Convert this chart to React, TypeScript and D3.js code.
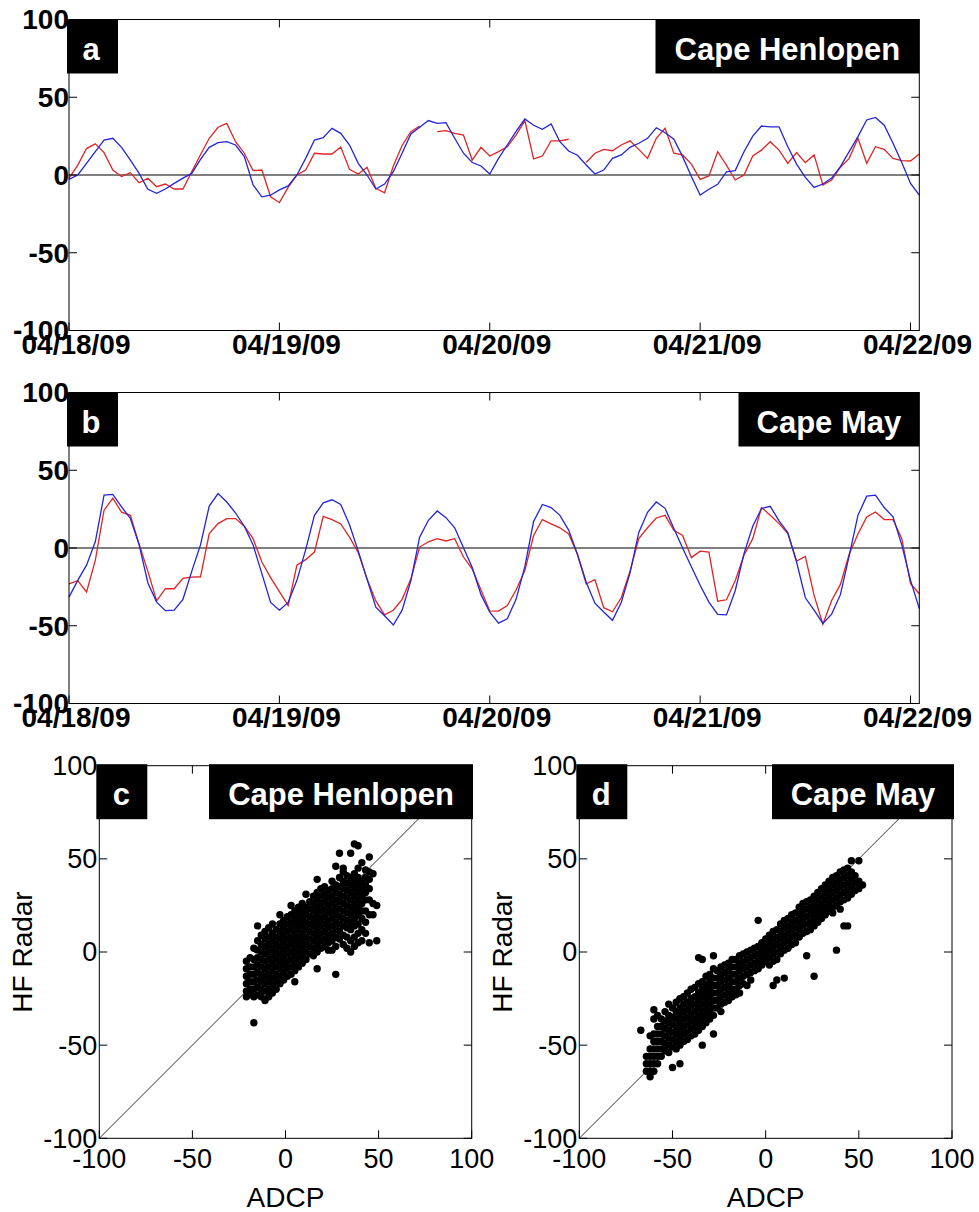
import React from 'react';
import * as d3 from 'd3';

// hourly series, starting 04/18/09 00:00
const startTime = new Date(2009, 3, 18, 0);
const endTime = new Date(2009, 3, 22, 1);
const dateTicks = ['04/18/09', '04/19/09', '04/20/09', '04/21/09', '04/22/09'];
const valueTicks = [-100, -50, 0, 50, 100];
const scatterTicks = [-100, -50, 0, 50, 100];

const henlopenAdcp = [
  -2.8, 0, 7.5, 15, 22.5, 23.6, 17.8, 9.6, 1, -9.2, -11.8, -9, -5.4, -2, 1, 10, 17.8, 20.8, 21.4, 19.3,
  11.8, -6.4, -14, -13, -9.6, -7, 0, 10.7, 22.5, 24, 30, 26.8, 19.3, 7.5, 0, -9, -5.8, 2.1, 14, 26.4,
  30.7, 35, 33.2, 33.7, 23.6, 14, 8, 5.8, 0.6, 10.7, 19.3, 28, 36, 32, 29.4, 32.8, 21.4, 15.4, 12.7, 6.4,
  0.6, 3.2, 10.7, 12.9, 17.8, 20.4, 23.6, 30.4, 27.2, 23, 11.8, -1, -12.9, -9.2, -6, 2, 2.8, 15, 25, 31.5,
  31, 31, 18.2, 7, -1.5, -8, -5.8, -2, 5.4, 15, 24.7, 35.4, 37, 32, 20.4, 8, -5.4, -12.9,
];
const henlopenRadar = [
  -2, 6.4, 17, 20, 14.4, 3.2, -1, 1.5, -5, -2.1, -7.5, -5.8, -9, -9, 2.1, 13, 23.6, 30.7, 33.2, 21.4,
  14, 2.8, 3.2, -14, -17.8, -8, 0, 3.2, 14, 13.5, 13.5, 18, 3.6, 0.6, 5, -8.6, -11.4, 5.8, 19, 27.9,
  31.5, null, 27.9, 28.5, 26.8, 25.7, 9.6, 17.8, 12.2, 15, 18.2, 25.7, 35, 10.3, 12.2, 22, 22, 23, null, 8,
  14, 16.5, 15.6, 19.3, 22, 16.5, 10.7, 23.6, 30, 14, 12.9, 7, -2.8, -0.6, 15, 6.4, -3.2, 0, 12.2, 16,
  21.4, 16, 7.5, 14.4, 8, 12.9, -6.4, -3.2, 5, 10.7, 23.6, 7.5, 18.2, 16.5, 10.7, 9.2, 9, 13.5,
];
const capeMayAdcp = [
  -31.6, -20.8, -11, 4, 34, 34.5, 26.4, 19, 2, -22.5, -34.8, -40.3, -40, -33, -15, 2, 27, 35, 29.6, 22.5,
  14, 2, -16.5, -35, -40, -35, -20.8, -1, 21, 29, 31, 28, 15, -2, -20, -38, -43.6, -49.5, -40, -21,
  7, 17.8, 23.8, 19.5, 13, 0.2, -12.5, -30, -41.3, -48.3, -45.5, -33, -12, 17, 28, 26, 21, 11.5, -4, -22,
  -35.5, -41.2, -46.5, -35, -16, 10, 23, 29.6, 25.5, 12.5, 0, -12, -24, -34.8, -42.7, -43, -27.5, -3.6, 14, 25.4,
  26.8, 17.5, 10, -9, -32, -40, -48.5, -42.5, -30, -5, 21, 33.3, 34, 26, 20, 2, -20.8, -39,
];
const capeMayRadar = [
  -23, -21, -28.3, -8, 24.3, 32, 23, 21, 2.5, -15, -34, -26.2, -26.2, -19.5, -18.7, -18.5, 9.3, 15.7, 18.9, 18.9,
  14, 6, -9, -19, -28, -37, -11, -7.5, -2.6, 20.4, 18.3, 15.5, 7, -3, -20, -34, -43, -40, -33, -20,
  0.6, 4, 6, 4.5, 6, -5.8, -13.5, -27, -40.5, -40.6, -37, -27, -14.5, 8, 18.3, 15.5, 13, 9, -4, -23,
  -20.4, -38.4, -41, -32, -15, 6, 13, 19.3, 21, 11.4, 8, -6.2, -2, -2.6, -34.2, -33.3, -21, -4.7, 6, 26,
  21, 15.7, 9.3, -8.4, -5.4, -30.5, -49, -33.7, -23.4, -4, 9, 20, 23.2, 18.3, 18.3, 6, -23, -29.4,
];

// scatter: [ADCP, [HF radar values at that ADCP]]
const henlopenScatter: [number, number[]][] = [
  [-21, [-5, -9, -13, -17, -21, -24]],
  [-19, [-3, -8, -12, -16, -20, -23]],
  [-17, [2, -4, -8, -12, -16, -20, -24, -38]],
  [-15, [14, 6, 1, -3, -7, -11, -15, -19, -23]],
  [-13, [9, 4, 0, -4, -8, -12, -16, -20, -24]],
  [-11, [11, 7, 3, -1, -5, -9, -13, -17, -21, -26]],
  [-9, [13, 8, 4, 0, -4, -8, -12, -16, -20, -24]],
  [-7, [15, 10, 6, 2, -2, -6, -10, -14, -18, -22]],
  [-5, [12, 8, 4, 0, -4, -8, -12, -16, -20]],
  [-3, [20, 15, 11, 7, 3, -1, -5, -9, -13, -17]],
  [-1, [17, 13, 9, 5, 1, -3, -7, -11, -15]],
  [1, [19, 15, 11, 7, 3, -1, -5, -9, -13]],
  [3, [25, 20, 16, 12, 8, 4, 0, -4, -8, -12]],
  [5, [22, 18, 14, 10, 6, 2, -2, -6, -10, -16]],
  [7, [24, 20, 16, 12, 8, 4, 0, -4, -8]],
  [9, [26, 22, 18, 14, 10, 6, 2, -2, -6]],
  [11, [31, 24, 20, 16, 12, 8, 4, 0, -4]],
  [13, [27, 23, 19, 15, 11, 7, 3, -1]],
  [15, [30, 26, 22, 18, 14, 10, 6, 2, -2]],
  [17, [39, 32, 28, 24, 20, 16, 12, 8, 4, 0, -9]],
  [19, [34, 30, 26, 22, 18, 14, 10, 6, 2]],
  [21, [35, 31, 27, 23, 19, 15, 11, 7, 3]],
  [23, [33, 29, 25, 21, 17, 13, 9, 5, 1]],
  [25, [38, 34, 30, 26, 22, 18, 14, 10, 6, 1]],
  [27, [46, 36, 32, 28, 24, 20, 16, 12, 8, 3, -12]],
  [29, [53, 40, 35, 31, 27, 23, 19, 15, 11, 7]],
  [31, [45, 43, 38, 34, 30, 26, 22, 18, 14, 9, 4]],
  [33, [41, 37, 33, 29, 25, 21, 17, 13, 8, 2]],
  [35, [53, 40, 36, 32, 28, 24, 20, 16, 12, 6, 0]],
  [37, [58, 42, 38, 34, 30, 26, 22, 18, 14, 8, 3]],
  [39, [57, 45, 40, 36, 32, 28, 24, 20, 15, 10, 5]],
  [41, [48, 38, 34, 30, 26, 22, 18, 12, 6]],
  [43, [44, 40, 36, 32, 28, 22, 16, 10]],
  [45, [51, 43, 39, 34, 28, 20, 5]],
  [47, [42, 26, 20]],
  [49, [25, 6]],
];
const capeMayScatter: [number, number[]][] = [
  [-67, [-42]],
  [-64, [-56, -60, -64]],
  [-62, [-45, -52, -56, -60, -64, -67]],
  [-60, [-31, -36, -44, -48, -52, -56, -60, -64]],
  [-58, [-34, -40, -44, -48, -52, -56, -60]],
  [-56, [-36, -40, -44, -48, -52, -56]],
  [-54, [-32, -37, -41, -45, -49, -53]],
  [-52, [-28, -34, -38, -42, -46, -50, -54]],
  [-50, [-30, -35, -39, -43, -47, -51, -62]],
  [-48, [-27, -32, -36, -40, -44, -48, -52]],
  [-46, [-25, -30, -34, -38, -42, -46, -50, -60]],
  [-44, [-24, -28, -32, -36, -40, -44, -48]],
  [-42, [-22, -27, -31, -35, -39, -43, -47]],
  [-40, [-20, -25, -29, -33, -37, -41, -45]],
  [-38, [-19, -24, -28, -32, -36, -40, -44]],
  [-36, [-3, -17, -22, -26, -30, -34, -38, -42]],
  [-34, [-4, -16, -20, -24, -28, -32, -36, -40, -50]],
  [-32, [-13, -18, -22, -26, -30, -34, -38]],
  [-30, [-12, -16, -20, -24, -28, -32, -36]],
  [-28, [-2, -9, -14, -18, -22, -26, -30, -34, -44]],
  [-26, [-10, -14, -18, -22, -26, -30]],
  [-24, [-8, -12, -16, -20, -24, -28, -32]],
  [-22, [-7, -11, -15, -19, -23, -27]],
  [-20, [-6, -10, -14, -18, -22, -26]],
  [-18, [-4, -8, -12, -16, -20, -24]],
  [-16, [-4, -8, -12, -16, -20, -23]],
  [-14, [-2, -6, -10, -14, -18, -22]],
  [-12, [-1, -5, -9, -13, -17]],
  [-10, [0, -4, -8, -12, -18]],
  [-8, [1, -3, -7, -11, -15]],
  [-6, [2, -2, -6, -10]],
  [-4, [17, 3, -1, -5, -9]],
  [-2, [5, 1, -3, -7]],
  [0, [7, 3, -1, -5]],
  [2, [9, 5, 1, -3, -7]],
  [4, [11, 7, 3, -1, -5, -18]],
  [6, [12, 8, 4, 0, -4, -15]],
  [8, [15, 11, 7, 3, -1]],
  [10, [17, 13, 9, 5, 1, -14]],
  [12, [18, 14, 10, 6, 2]],
  [14, [20, 16, 12, 8, 4]],
  [16, [21, 17, 13, 9, 5]],
  [18, [24, 20, 16, 12, 8]],
  [20, [26, 22, 18, 14, 10]],
  [22, [27, 23, 19, 15, 11, -2]],
  [24, [28, 24, 20, 16, 12]],
  [26, [30, 26, 22, 18, 14, -13]],
  [28, [32, 28, 24, 20, 16]],
  [30, [34, 30, 26, 22, 18]],
  [32, [36, 32, 28, 24, 20]],
  [34, [38, 34, 30, 26, 22]],
  [36, [40, 36, 32, 28, 24, 21]],
  [38, [41, 37, 33, 29, 25, 1]],
  [40, [43, 39, 35, 31, 27, 23]],
  [42, [44, 40, 36, 32, 28, 14]],
  [44, [45, 41, 37, 33, 29, 14]],
  [46, [49, 43, 39, 35, 31]],
  [48, [41, 37, 33]],
  [50, [49, 38, 34]],
  [52, [36]],
];

const FONT = 'Liberation Sans, Arial, Helvetica, sans-serif';
const BLUE = '#2424d8';
const RED = '#e02424';
const parseTick = d3.timeParse('%m/%d/%y');

type Pt = { t: Date; v: number | null };

function TimePanel({ top, bottom, left, right, adcp, radar, letter, site, siteLeft }: any) {
  const x = d3.scaleTime().domain([startTime, endTime]).range([left, right]);
  const y = d3.scaleLinear().domain([-100, 100]).range([bottom, top]);
  const toPts = (vals: (number | null)[]): Pt[] =>
    vals.map((v, i) => ({ t: d3.timeHour.offset(startTime, i), v }));
  const line = d3
    .line<Pt>()
    .defined((d) => d.v != null)
    .x((d) => x(d.t))
    .y((d) => y(d.v as number));
  const tl = 8;
  return (
    <g>
      <line x1={left} x2={right} y1={y(0)} y2={y(0)} stroke="#555" strokeWidth={1.6} />
      <path d={line(toPts(radar)) || ''} fill="none" stroke={RED} strokeWidth={1.3} />
      <path d={line(toPts(adcp)) || ''} fill="none" stroke={BLUE} strokeWidth={1.3} />
      <rect x={left} y={top} width={right - left} height={bottom - top} fill="none" stroke="#000" strokeWidth={1} />
      {dateTicks.map((s) => {
        const px = x(parseTick(s) as Date);
        return (
          <g key={s}>
            <line x1={px} x2={px} y1={bottom} y2={bottom - tl} stroke="#000" />
            <line x1={px} x2={px} y1={top} y2={top + tl} stroke="#000" />
            <text x={px + 7} y={bottom + 23} textAnchor="middle" fontSize={28} fontWeight="bold" fontFamily={FONT}>
              {s}
            </text>
          </g>
        );
      })}
      {valueTicks.map((v) => (
        <g key={v}>
          <line x1={left} x2={left + tl} y1={y(v)} y2={y(v)} stroke="#000" />
          <line x1={right} x2={right - tl} y1={y(v)} y2={y(v)} stroke="#000" />
          <text x={left} y={y(v)} dy="0.35em" textAnchor="end" fontSize={28} fontWeight="bold" fontFamily={FONT}>
            {v}
          </text>
        </g>
      ))}
      <rect x={left - 2} y={top} width={51} height={54} fill="#000" />
      <text x={left + 22} y={top + 40.5} textAnchor="middle" fill="#fff" fontSize={31} fontWeight="bold" fontFamily={FONT}>
        {letter}
      </text>
      <rect x={siteLeft} y={top} width={right - siteLeft} height={54} fill="#000" />
      <text x={(siteLeft + right) / 2} y={top + 40.5} textAnchor="middle" fill="#fff" fontSize={31} fontWeight="bold" fontFamily={FONT}>
        {site}
      </text>
    </g>
  );
}

function ScatterPanel({ left, right, top, bottom, cols, letter, site, siteLeft, siteRight }: any) {
  const x = d3.scaleLinear().domain([-100, 100]).range([left, right]);
  const y = d3.scaleLinear().domain([-100, 100]).range([bottom, top]);
  const pts: [number, number][] = (cols as [number, number[]][]).flatMap(([a, rs]) =>
    rs.map((r) => [a, r] as [number, number])
  );
  const tl = 8;
  const midY = (top + bottom) / 2;
  return (
    <g>
      <line x1={x(-100)} y1={y(-100)} x2={x(100)} y2={y(100)} stroke="#333" strokeWidth={1} />
      {pts.map(([a, r], i) => (
        <circle key={i} cx={x(a)} cy={y(r)} r={3.7} fill="#000" />
      ))}
      <rect x={left} y={top} width={right - left} height={bottom - top} fill="none" stroke="#000" strokeWidth={1} />
      {scatterTicks.map((v) => (
        <g key={v}>
          <line x1={x(v)} x2={x(v)} y1={bottom} y2={bottom - tl} stroke="#000" />
          <line x1={x(v)} x2={x(v)} y1={top} y2={top + tl} stroke="#000" />
          <line x1={left} x2={left + tl} y1={y(v)} y2={y(v)} stroke="#000" />
          <line x1={right} x2={right - tl} y1={y(v)} y2={y(v)} stroke="#000" />
          <text x={x(v)} y={bottom + 30} textAnchor="middle" fontSize={27} fontFamily={FONT}>
            {v}
          </text>
          <text x={left - 2} y={y(v)} dy="0.35em" textAnchor="end" fontSize={27} fontFamily={FONT}>
            {v}
          </text>
        </g>
      ))}
      <text x={(left + right) / 2} y={bottom + 69} textAnchor="middle" fontSize={28} fontFamily={FONT}>
        ADCP
      </text>
      <text transform={`translate(${left - 67},${midY}) rotate(-90)`} textAnchor="middle" fontSize={28} fontFamily={FONT}>
        HF Radar
      </text>
      <rect x={left - 3} y={top - 1.5} width={51} height={55} fill="#000" />
      <text x={left + 22} y={top + 39} textAnchor="middle" fill="#fff" fontSize={31} fontWeight="bold" fontFamily={FONT}>
        {letter}
      </text>
      <rect x={siteLeft} y={top - 1.5} width={siteRight - siteLeft} height={55} fill="#000" />
      <text x={(siteLeft + siteRight) / 2} y={top + 39} textAnchor="middle" fill="#fff" fontSize={31} fontWeight="bold" fontFamily={FONT}>
        {site}
      </text>
    </g>
  );
}

export default function App() {
  return (
    <div>
      <style>{'body{margin:0;background:#fff}'}</style>
      <svg width={979} height={1212} style={{ display: 'block', background: '#fff' }}>
        <TimePanel top={19.5} bottom={330.5} left={69} right={919.3} adcp={henlopenAdcp} radar={henlopenRadar}
          letter="a" site="Cape Henlopen" siteLeft={655.5} />
        <TimePanel top={392.5} bottom={703.5} left={69} right={919.3} adcp={capeMayAdcp} radar={capeMayRadar}
          letter="b" site="Cape May" siteLeft={738.5} />
        <ScatterPanel left={99.3} right={471.7} top={765.7} bottom={1138.3} cols={henlopenScatter}
          letter="c" site="Cape Henlopen" siteLeft={209} siteRight={473} />
        <ScatterPanel left={579.3} right={952} top={765.7} bottom={1138.3} cols={capeMayScatter}
          letter="d" site="Cape May" siteLeft={772} siteRight={954} />
      </svg>
    </div>
  );
}
